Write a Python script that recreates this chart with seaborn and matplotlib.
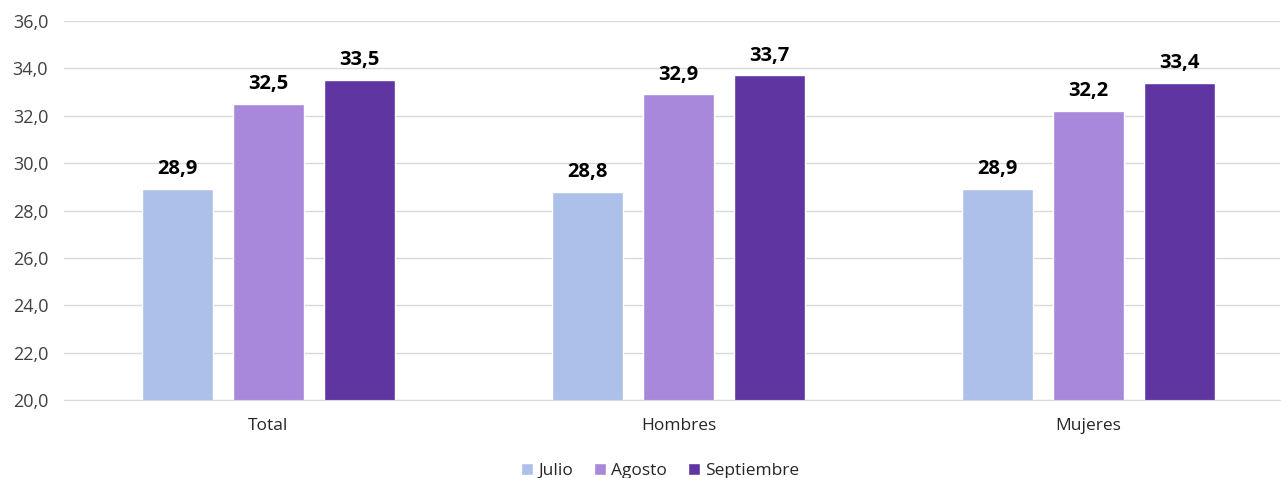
# Bar chart: monthly values by group (Total / Hombres / Mujeres).

import matplotlib

matplotlib.use("Agg")

import matplotlib.pyplot as plt
import pandas as pd
import seaborn as sns
from matplotlib.ticker import FuncFormatter

CATEGORIES = ["Total", "Hombres", "Mujeres"]
MONTHS = ["Julio", "Agosto", "Septiembre"]
JULIO = [28.9, 28.8, 28.9]
AGOSTO = [32.5, 32.9, 32.2]
SEPTIEMBRE = [33.5, 33.7, 33.4]
COLORS = ["#ADC0E9", "#A888DA", "#5E35A1"]

df = pd.DataFrame(
    {
        "grupo": CATEGORIES * 3,
        "mes": [m for m in MONTHS for _ in CATEGORIES],
        "valor": JULIO + AGOSTO + SEPTIEMBRE,
    }
)

sns.set_style("white")
plt.rcParams["font.family"] = ["Open Sans", "DejaVu Sans"]

fig = plt.figure(figsize=(12.81, 4.78), dpi=100)
ax = fig.add_axes([63.5 / 1281, 78 / 478, (1280 - 63.5) / 1281, 379 / 478])

sns.barplot(
    data=df,
    x="grupo",
    y="valor",
    hue="mes",
    hue_order=MONTHS,
    palette=COLORS,
    width=0.666,
    gap=0.22,
    saturation=1,
    legend=True,
    ax=ax,
)

# data labels above each bar, decimal comma
for container in ax.containers:
    labels = [f"{v:.1f}".replace(".", ",") for v in container.datavalues]
    ax.bar_label(container, labels=labels, padding=7, fontsize=14.5,
                 fontweight="bold", color="black")

ax.set_ylim(20, 36)
ax.set_xlim(-0.5, -0.5 + (1280 - 63.5) / 410)
ax.set_yticks(range(20, 37, 2))
ax.yaxis.set_major_formatter(FuncFormatter(lambda v, _: f"{v:.1f}".replace(".", ",")))
ax.grid(axis="y", color="#D9D9D9", linewidth=1)
ax.set_axisbelow(True)
for side in ["top", "right", "left"]:
    ax.spines[side].set_visible(False)
ax.spines["bottom"].set_color("#D9D9D9")
ax.tick_params(axis="y", length=0, pad=11, labelsize=13, labelcolor="#404040")
ax.tick_params(axis="x", length=0, pad=13, labelsize=12.5, labelcolor="#262626")
ax.set_xlabel("")
ax.set_ylabel("")

handles, labels = ax.get_legend_handles_labels()
ax.legend_.remove()
fig.legend(
    handles,
    labels,
    loc="lower center",
    bbox_to_anchor=(660 / 1281, -0.035),
    ncol=3,
    frameon=False,
    fontsize=12.5,
    handlelength=0.7,
    handleheight=0.7,
    handletextpad=0.3,
    columnspacing=1.2,
    labelcolor="#262626",
)

fig.savefig("out.png", dpi=100)
